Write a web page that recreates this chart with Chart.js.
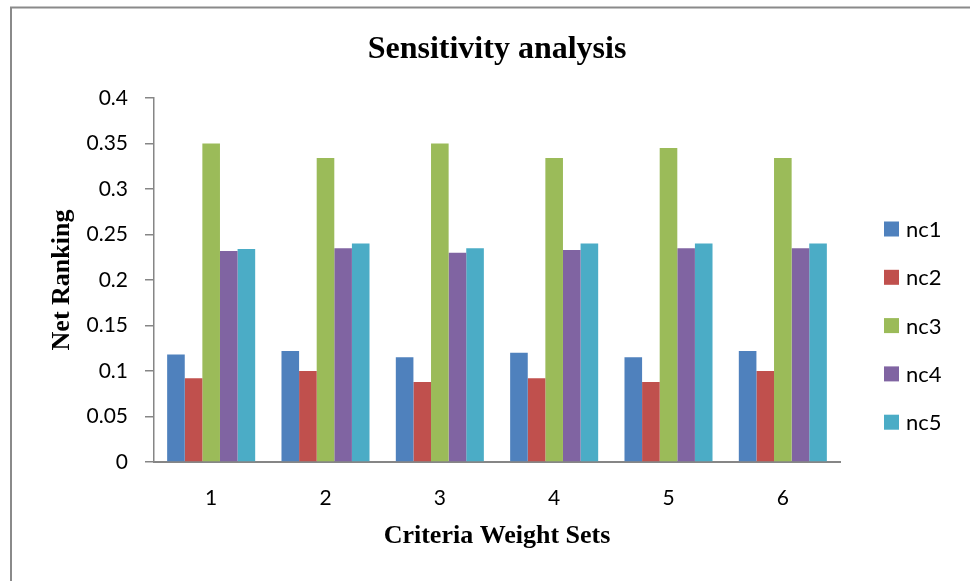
<!DOCTYPE html>
<html>
<head>
<meta charset="utf-8">
<title>Sensitivity analysis</title>
<script src="https://cdn.jsdelivr.net/npm/chart.js@4/dist/chart.umd.min.js"></script>
<style>
  html, body { margin: 0; padding: 0; background: #ffffff; }
  #wrap { width: 970px; height: 581px; position: relative; }
</style>
</head>
<body>
<div id="wrap"><canvas id="chart" width="970" height="581"></canvas></div>
<script>
// Criteria weight sets on the x axis
const categories = ['1', '2', '3', '4', '5', '6'];

// Net ranking of each alternative per weight set
const seriesNames = ['nc1', 'nc2', 'nc3', 'nc4', 'nc5'];
const nc1 = [0.118, 0.122, 0.115, 0.120, 0.115, 0.122];
const nc2 = [0.092, 0.100, 0.088, 0.092, 0.088, 0.100];
const nc3 = [0.350, 0.334, 0.350, 0.334, 0.345, 0.334];
const nc4 = [0.232, 0.235, 0.230, 0.233, 0.235, 0.235];
const nc5 = [0.234, 0.240, 0.235, 0.240, 0.240, 0.240];

// Value axis labels, bottom to top
const yTickLabels = ['0', '0.05', '0.1', '0.15', '0.2', '0.25', '0.3', '0.35', '0.4'];

const seriesValues = [nc1, nc2, nc3, nc4, nc5];
const seriesColors = ['#4F81BD', '#C0504D', '#9BBB59', '#8064A2', '#4BACC6'];

const AXIS_GRAY = '#868686';
const SANS = "Lato, 'DejaVu Sans', sans-serif";
const SERIF = "'Liberation Serif', 'Times New Roman', serif";

// Thin gray frame along the top and left of the chart
const framePlugin = {
  id: 'frame',
  beforeDraw(chart) {
    const ctx = chart.ctx;
    ctx.save();
    ctx.strokeStyle = '#8a8a8a';
    ctx.lineWidth = 2;
    ctx.beginPath();
    ctx.moveTo(11, chart.height);
    ctx.lineTo(11, 7.5);
    ctx.lineTo(chart.width, 7.5);
    ctx.stroke();
    ctx.restore();
  }
};

// Legend column to the right of the plot, built from the datasets
const sideLegend = {
  id: 'sideLegend',
  afterDraw(chart) {
    const ctx = chart.ctx;
    const area = chart.chartArea;
    const x0 = area.right + 44;
    const y0 = area.top + 131;
    const step = 48.3;
    const box = 15;
    ctx.save();
    ctx.font = '22px ' + SANS;
    ctx.textBaseline = 'middle';
    ctx.textAlign = 'left';
    chart.data.datasets.forEach((ds, i) => {
      const cy = y0 + i * step;
      ctx.fillStyle = ds.backgroundColor;
      ctx.fillRect(x0, cy - box / 2, box, box);
      ctx.fillStyle = '#000000';
      ctx.fillText(ds.label, x0 + box + 7, cy + 1);
    });
    ctx.restore();
  }
};

new Chart(document.getElementById('chart'), {
  type: 'bar',
  data: {
    labels: categories,
    datasets: seriesNames.map((name, i) => ({
      label: name,
      data: seriesValues[i],
      backgroundColor: seriesColors[i],
      borderWidth: 0,
      categoryPercentage: 0.77,
      barPercentage: 1.0
    }))
  },
  options: {
    responsive: false,
    animation: false,
    devicePixelRatio: 1,
    layout: { padding: { left: 0, right: 130, top: 0, bottom: 0 } },
    plugins: {
      legend: { display: false },
      tooltip: { enabled: false },
      title: {
        display: true,
        text: 'Sensitivity analysis',
        fullSize: false,
        color: '#000000',
        font: { family: SERIF, size: 32, weight: 'bold', lineHeight: 1.2 },
        padding: { top: 30.3, bottom: 29.3 }
      }
    },
    scales: {
      x: {
        grid: { display: false, drawTicks: false, tickLength: 0 },
        border: { display: true, color: AXIS_GRAY, width: 2 },
        ticks: {
          color: '#000000',
          font: { family: SANS, size: 21, lineHeight: 1.2 },
          padding: 24,
          maxRotation: 0
        },
        title: {
          display: true,
          text: 'Criteria Weight Sets',
          color: '#000000',
          font: { family: SERIF, size: 26, weight: 'bold', lineHeight: 1.2 },
          padding: { top: 0, bottom: 29 }
        },
        afterFit(scale) { scale.height = 119; }
      },
      y: {
        min: 0,
        max: 0.4,
        grid: {
          drawOnChartArea: false,
          drawTicks: true,
          tickLength: 9,
          color: AXIS_GRAY,
          lineWidth: 1.5
        },
        border: { display: true, color: AXIS_GRAY, width: 1.5 },
        ticks: {
          stepSize: 0.05,
          color: '#000000',
          font: { family: SANS, size: 21, lineHeight: 1.2 },
          padding: 17,
          callback: (value, index) => yTickLabels[index]
        },
        title: {
          display: true,
          text: 'Net Ranking',
          color: '#000000',
          font: { family: SERIF, size: 26, weight: 'bold', lineHeight: 1.2 },
          padding: { top: 46.4, bottom: 0 }
        },
        afterFit(scale) { scale.width = 154; }
      }
    }
  },
  plugins: [framePlugin, sideLegend]
});
</script>
</body>
</html>
